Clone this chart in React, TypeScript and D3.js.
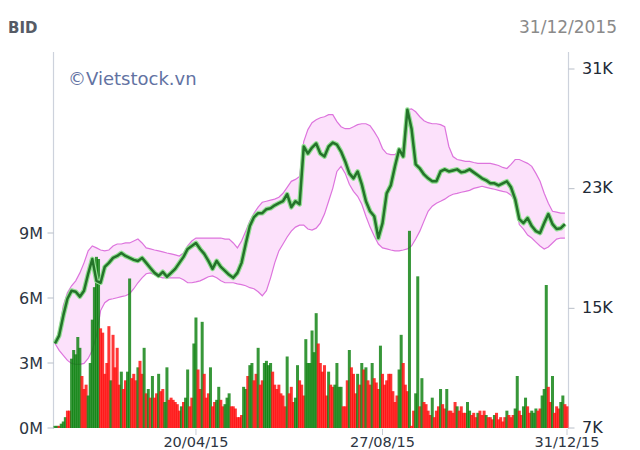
import React from "react";
import * as d3 from "d3";

// ---- data ----
const volume: number[] = [
  0.1, 0.1, 0.1, 0.2, 0.3, 0.5, 0.8, 0.8, 3.2, 3.6,
  3.4, 4.2, 3.7, 2.4, 1.8, 2.0, 1.5, 3.0, 5.0, 6.5,
  7.9, 7.8, 4.6, 4.4, 2.5, 3.0, 4.7, 2.2, 4.3, 2.8,
  3.7, 2.0, 2.6, 1.8, 2.2, 2.6, 6.9, 2.3, 2.5, 2.2,
  2.8, 3.1, 2.5, 3.7, 1.6, 1.8, 1.4, 2.4, 1.4, 1.6,
  2.5, 1.7, 1.8, 1.2, 2.8, 1.3, 1.4, 1.3, 1.2, 1.1,
  0.8, 1.0, 1.2, 1.4, 2.7, 1.0, 1.4, 3.9, 5.1, 2.7,
  1.8, 4.9, 2.5, 1.4, 1.6, 2.8, 1.0, 1.2, 1.3, 1.9,
  1.3, 1.0, 1.1, 1.4, 1.6, 1.0, 1.0, 0.9, 0.5, 0.5,
  0.6, 1.9, 1.8, 2.4, 2.9, 3.0, 2.2, 2.5, 3.7, 2.0,
  2.2, 3.0, 3.1, 2.9, 3.0, 2.6, 2.0, 1.8, 2.0, 1.6,
  1.5, 1.0, 3.3, 1.6, 1.9, 1.2, 1.4, 2.9, 2.2, 2.0,
  1.5, 4.1, 3.0, 3.0, 4.5, 3.5, 5.3, 3.9, 3.0, 2.6,
  2.9, 1.5, 2.6, 2.0, 1.9, 2.0, 3.0, 1.9, 1.9, 1.0,
  1.0, 2.2, 3.6, 2.8, 2.5, 1.6, 2.5, 2.0, 3.0, 2.7,
  2.8, 2.2, 2.0, 3.0, 2.3, 2.1, 1.8, 3.8, 2.5, 2.0,
  2.2, 2.5, 2.5, 1.7, 1.2, 1.5, 2.7, 4.3, 3.0, 2.0,
  1.7, 9.1, 0.1, 0.8, 1.6, 7.0, 1.0, 2.3, 1.2, 1.1,
  0.8, 0.6, 1.4, 0.5, 0.8, 1.0, 1.8, 1.1, 0.9, 1.8,
  0.8, 0.8, 0.7, 1.2, 1.0, 0.8, 1.0, 0.7, 0.7, 1.2,
  0.8, 0.6, 0.7, 0.5, 0.7, 0.8, 0.6, 0.8, 0.6, 0.5,
  0.5, 0.4, 0.6, 0.7, 0.4, 0.5, 0.3, 0.5, 0.8, 0.6,
  0.5, 0.6, 0.9, 2.4, 0.8, 0.6, 1.0, 1.4, 1.0, 0.7,
  0.8, 0.7, 0.9, 0.8, 0.9, 1.5, 1.8, 6.6, 1.9, 1.2,
  2.4, 0.7, 1.0, 0.9, 1.2, 1.5, 1.1, 1.0,
];

// g = up day (green), r = down day (red)
const direction =
  "ggrgggrrgg" + "gggrrrgggg" + "ggrrrrrgrr" + "rrgrrggrrr" + "grrgrgrgrr" +
  "grrggrrrrr" + "rgrggrrggr" + "rgrrrgrrgg" + "rrgggrrrrr" + "rggrggrrgr" +
  "rggggrrrrr" + "rrgrrrggrr" + "rggggggrrr" + "rrgrrggggr" + "rrgrrrgrgr" +
  "grrgrrrgrr" + "rrrrrrggrr" + "rgrrggrgrr" + "rrgrrrgrrg" + "rrrrgrrrrg" +
  "grrrgrrrgr" + "rrgrrrrrgr" + "rrggrrggrr" + "gggrrgggrr" + "grrrggrr";

// close price (thousand VND), sampled every second trading day
const price: number[] = [
  12.65, 13.18, 14.51, 15.64, 16.18, 16.11, 15.78, 16.18, 17.31, 18.30,
  16.84, 16.71, 17.77, 18.04, 18.37, 18.50, 18.70, 18.50, 18.37, 18.24,
  18.17, 18.37, 18.04, 17.70, 17.37, 17.17, 17.44, 17.11, 17.37, 17.64,
  18.04, 18.44, 18.97, 19.17, 19.37, 18.97, 18.64, 18.17, 17.64, 18.17,
  17.77, 17.51, 17.24, 17.04, 17.37, 18.04, 19.30, 20.50, 21.10, 21.36,
  21.36, 21.63, 21.69, 21.89, 22.03, 22.16, 22.63, 21.76, 22.16, 21.96,
  25.82, 25.35, 25.75, 26.02, 25.35, 25.15, 25.82, 26.08, 25.95, 25.48,
  24.82, 24.02, 23.69, 24.15, 23.29, 22.16, 21.49, 21.16, 19.70, 20.70,
  22.69, 23.22, 24.49, 25.62, 25.15, 28.28, 27.01, 24.62, 24.35, 23.95,
  23.69, 23.49, 23.49, 24.15, 24.29, 24.15, 24.22, 24.29, 24.09, 24.15,
  24.29, 24.09, 23.89, 23.69, 23.56, 23.36, 23.36, 23.22, 23.36, 23.49,
  23.09, 22.29, 20.96, 20.70, 21.03, 20.50, 20.16, 20.03, 20.70, 21.30,
  20.63, 20.30, 20.36, 20.63,
];

const upperBand: number[] = [
  12.65, 13.52, 15.18, 16.04, 16.51, 16.84, 17.37, 18.04, 18.84, 19.17,
  19.04, 18.90, 18.84, 18.90, 19.17, 19.30, 19.30, 19.37, 19.37, 19.50,
  19.63, 19.37, 19.04, 18.97, 18.90, 18.84, 18.77, 18.70, 18.64, 18.57,
  18.50, 18.70, 19.17, 19.50, 19.70, 19.70, 19.70, 19.70, 19.70, 19.70,
  19.70, 19.63, 19.63, 19.37, 19.04, 19.50, 20.16, 20.83, 21.36, 21.76,
  22.09, 22.16, 22.23, 22.30, 22.43, 22.69, 23.09, 23.49, 23.62, 23.82,
  26.15, 26.95, 27.41, 27.61, 27.74, 27.81, 27.95, 27.95, 27.48, 27.14,
  27.01, 27.01, 27.14, 27.28, 27.34, 27.34, 27.21, 26.81, 26.35, 25.68,
  25.35, 25.28, 25.28, 25.48, 25.82, 28.28, 28.34, 28.14, 27.81, 27.54,
  27.41, 27.34, 27.34, 27.28, 27.14, 25.82, 25.15, 24.95, 24.89, 24.82,
  24.82, 24.75, 24.69, 24.69, 24.69, 24.69, 24.62, 24.55, 24.42, 24.35,
  24.62, 24.95, 24.95, 24.82, 24.69, 24.49, 24.02, 23.49, 22.69, 22.03,
  21.49, 21.43, 21.36, 21.36,
];

const lowerBand: number[] = [
  12.65, 12.19, 11.85, 11.52, 11.32, 11.26, 11.26, 11.32, 11.65, 12.19,
  13.18, 14.85, 15.38, 15.58, 15.64, 15.71, 15.78, 15.84, 15.98, 16.31,
  16.71, 17.04, 17.31, 17.37, 17.24, 17.11, 17.04, 17.04, 17.04, 17.04,
  17.04, 16.91, 16.71, 16.71, 16.77, 16.84, 16.97, 17.11, 17.17, 17.04,
  16.84, 16.71, 16.71, 16.71, 16.64, 16.58, 16.51, 16.38, 16.31, 16.11,
  15.84, 16.18, 17.04, 18.04, 18.84, 19.30, 19.77, 20.16, 20.43, 20.56,
  20.56, 20.30, 20.23, 20.36, 20.70, 21.30, 22.16, 23.02, 24.15, 24.49,
  24.02, 23.29, 22.82, 22.49, 21.96, 21.16, 20.43, 19.83, 19.30, 19.04,
  18.97, 18.90, 18.84, 18.84, 18.90, 18.97, 19.17, 19.63, 20.16, 20.83,
  21.49, 21.83, 22.03, 22.16, 22.30, 22.49, 22.63, 22.69, 22.76, 22.82,
  22.89, 23.02, 23.09, 23.16, 23.09, 23.02, 22.96, 22.89, 22.82, 22.76,
  22.56, 22.16, 20.60, 20.30, 19.90, 19.70, 19.43, 19.17, 18.97, 19.10,
  19.37, 19.63, 19.70, 19.70,
];

const dateTickIndex = [68, 158, 247];
const dateTickLabels = ["20/04/15", "27/08/15", "31/12/15"];
const volumeTicks = [0, 3, 6, 9];
const volumeTickLabels = ["0M", "3M", "6M", "9M"];
const priceTicks = [7, 15, 23, 31];
const priceTickLabels = ["7K", "15K", "23K", "31K"];

const FONT = "'DejaVu Sans', Verdana, sans-serif";

export default function App() {
  const W = 640;
  const H = 450;
  const left = 53.5;
  const right = 568.5;
  const top = 52;
  const bottom = 429;

  const x = d3.scaleLinear().domain([0, volume.length - 1]).range([55, 567]);
  const yPrice = d3.scaleLinear().domain([7, 31]).range([428, 69]);
  const yVol = d3.scaleLinear().domain([0, 9]).range([428, 233]);

  const step = x(1) - x(0);
  const barW = step * 1.45;

  const pIdx = (j: number) => j * 2;

  const area = d3
    .area<number>()
    .x((_, j) => x(pIdx(j)))
    .y0((_, j) => yPrice(lowerBand[j]))
    .y1((d) => yPrice(d));
  const bandLine = d3
    .line<number>()
    .x((_, j) => x(pIdx(j)))
    .y((d) => yPrice(d));

  return (
    <svg
      width={W}
      height={H}
      style={{ position: "absolute", left: 0, top: 0, background: "#fff" }}
    >
      <rect x={0} y={0} width={W} height={H} fill="#ffffff" />

      {/* title & date */}
      <text x={8} y={33} fontFamily={FONT} fontWeight="bold" fontSize={15} fill="#565b66">
        BID
      </text>
      <text x={617} y={33} textAnchor="end" fontFamily={FONT} fontSize={17} fill="#8a8a8a">
        31/12/2015
      </text>

      {/* axes lines */}
      <line x1={left} x2={left} y1={top} y2={bottom} stroke="#cdd2dc" strokeWidth={1.2} />
      <line x1={right} x2={right} y1={top} y2={bottom} stroke="#cdd2dc" strokeWidth={1.2} />

      {/* watermark */}
      <text x={68} y={85} fontFamily={FONT} fontSize={18} fill="#6272a2">
        ©Vietstock.vn
      </text>

      {/* band */}
      <path d={area(upperBand) || ""} fill="#fce1fb" />
      <path d={bandLine(upperBand) || ""} fill="none" stroke="#dd74dd" strokeWidth={1.2} />
      <path d={bandLine(lowerBand) || ""} fill="none" stroke="#dd74dd" strokeWidth={1.2} />

      {/* volume bars */}
      <g>
        {volume.map((v, i) => (
          <rect
            key={i}
            x={x(i) - barW / 2}
            y={yVol(v)}
            width={barW}
            height={yVol(0) - yVol(v)}
            fill={direction[i] === "g" ? "#0b800d" : "#ff0a0a"}
            fillOpacity={0.82}
          />
        ))}
      </g>

      {/* price line */}
      <path d={bandLine(price) || ""} fill="none" stroke="#93df93" strokeWidth={4.8} strokeLinejoin="round" />
      <path d={bandLine(price) || ""} fill="none" stroke="#24732a" strokeWidth={2.5} strokeLinejoin="round" />

      {/* left axis ticks */}
      {volumeTicks.map((t, k) => (
        <g key={"v" + k}>
          <line x1={left - 6} x2={left} y1={yVol(t)} y2={yVol(t)} stroke="#b8bec8" />
          <text
            x={43}
            y={yVol(t)}
            dy="0.36em"
            textAnchor="end"
            fontFamily={FONT}
            fontSize={16}
            fill="#2d3542"
          >
            {volumeTickLabels[k]}
          </text>
        </g>
      ))}

      {/* right axis ticks */}
      {priceTicks.map((t, k) => (
        <g key={"p" + k}>
          <line x1={right} x2={right + 6} y1={yPrice(t)} y2={yPrice(t)} stroke="#b8bec8" />
          <text
            x={582}
            y={yPrice(t) - 1}
            dy="0.36em"
            fontFamily={FONT}
            fontSize={16}
            fill="#222a36"
          >
            {priceTickLabels[k]}
          </text>
        </g>
      ))}

      {/* x ticks */}
      {dateTickIndex.map((ti, k) => (
        <g key={"d" + k}>
          <line x1={x(ti)} x2={x(ti)} y1={bottom} y2={bottom + 6} stroke="#c8cdd6" />
          <text
            x={x(ti)}
            y={446.5}
            textAnchor="middle"
            fontFamily={FONT}
            fontSize={14.5}
            fill="#2d3542"
          >
            {dateTickLabels[k]}
          </text>
        </g>
      ))}
    </svg>
  );
}
